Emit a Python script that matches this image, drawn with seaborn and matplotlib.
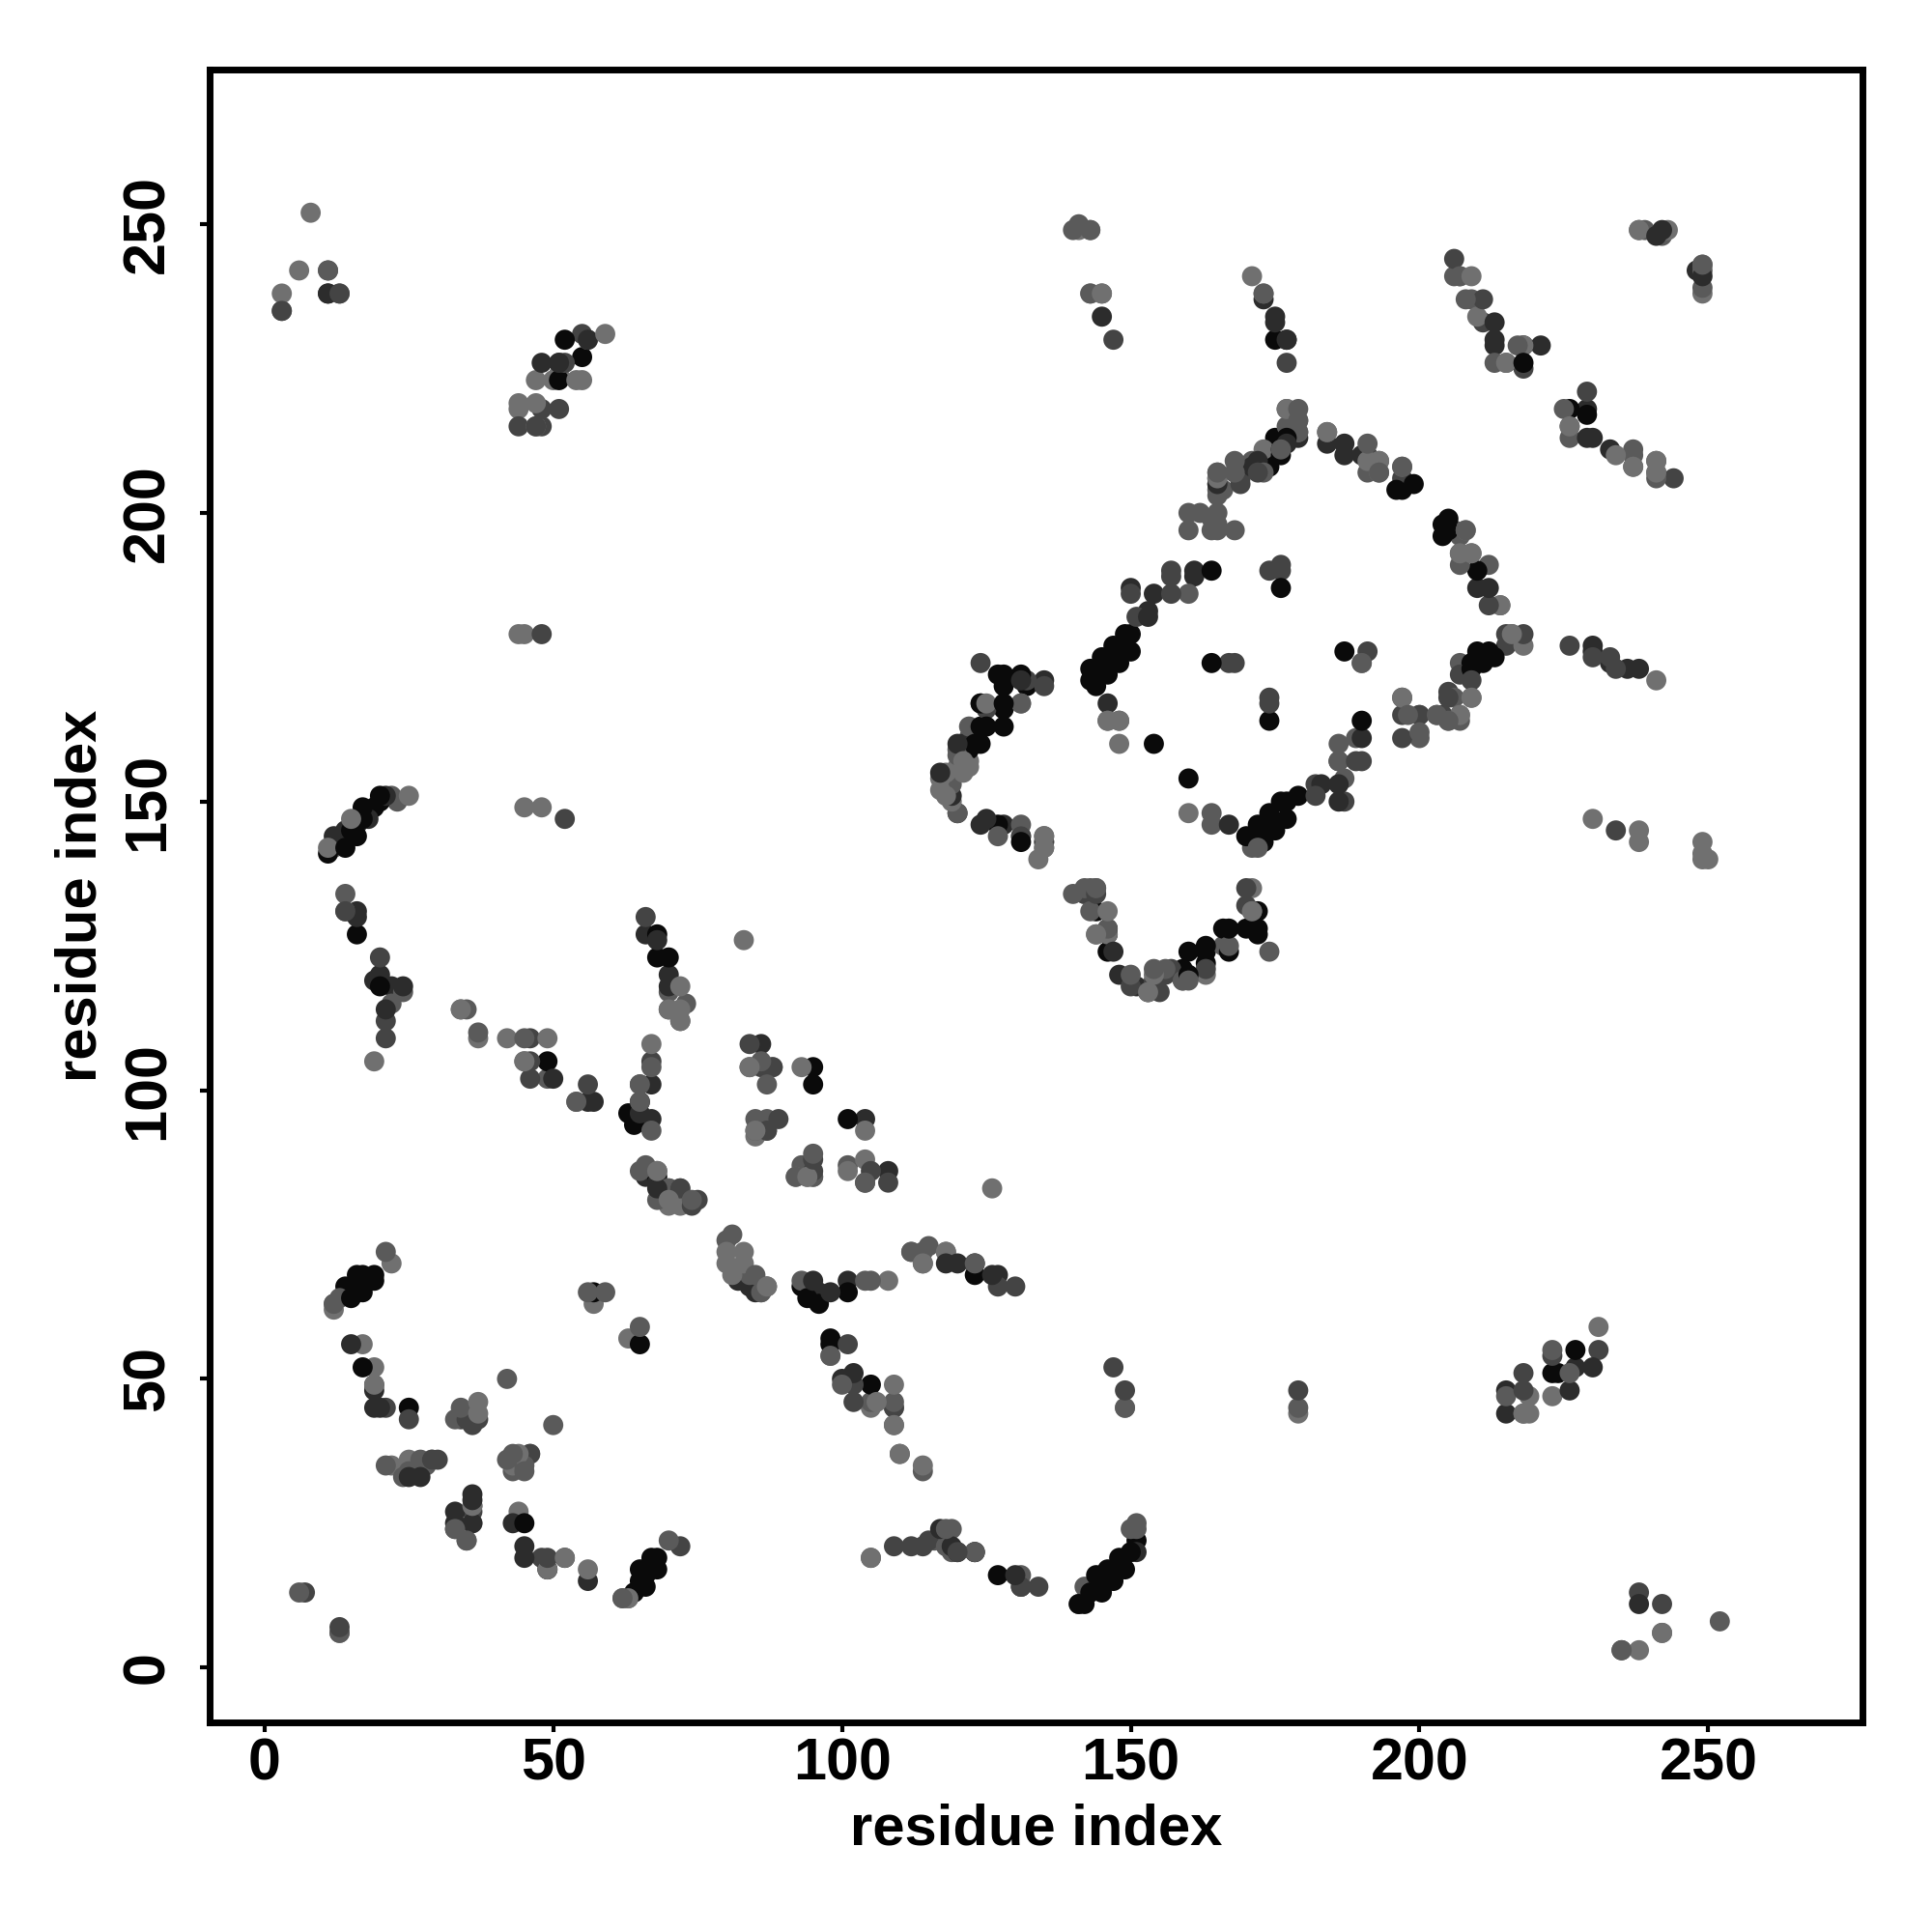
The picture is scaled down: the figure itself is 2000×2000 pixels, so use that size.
import matplotlib
matplotlib.use("Agg")
import matplotlib.pyplot as plt
import seaborn as sns
import pandas as pd

black_pts = [(11,238),(52,230),(55,227),(51,223),(16,127),(20,118),(68,127),(68,123),(70,123),(49,105),(95,104),(95,101),(101,95),
(65,98),(63,96),(64,94),(68,85),(17,68),(16,68),(19,68),(17,67),(19,67),(16,66),(17,65),(15,64),(14,66),(57,65),(96,63),(94,64),(93,66),
(101,65),(123,68),(123,70),(65,56),(98,57),(98,56),(105,49),(17,52),(25,45),(45,25),(49,17),(65,17),(66,16),(65,15),(67,17),(68,17),(67,19),(68,19),(66,14),(64,13),
(141,11),(142,11),(143,13),(145,13),(146,15),(147,15),(144,16),(146,17),(149,17),(148,19),(150,20),(151,22),(127,16),(227,55),(224,51),(223,51),
(177,230),(175,230),(218,229),(218,226),(226,218),(229,217),(175,211),(176,211),(173,209),(174,210),(174,208),(176,210),(177,213),(175,213),
(196,204),(197,204),(198,205),(199,205),(205,199),(204,198),(204,196),(205,197),(210,190),(213,175),(212,176),(210,176),(209,174),(209,173),(211,174),
(164,190),(176,187),(150,179),(149,179),(149,178),(147,177),(150,176),(148,176),(147,175),(145,175),(148,174),(145,173),(146,172),(143,173),(144,172),(143,171),(144,170),
(164,174),(187,176),(174,164),(190,164),(154,160),(160,154),(179,151),(177,150),(176,150),(177,147),(174,148),(174,146),(175,145),(172,146),(172,144),(173,143),(171,143),(170,144),
(128,172),(127,172),(131,172),(128,170),(132,170),(124,167),(128,167),(128,166),(125,163),(124,163),(128,163),(124,160),(122,159),(123,160),(127,146),(131,143),
(144,131),(146,128),(146,127),(146,124),(159,121),(160,120),(163,125),(163,124),(163,122),(166,128),(167,128),(167,124),(172,131),(172,128),(172,127),(170,128),(160,124),
(11,141),(14,142),(15,145),(16,144),(17,147),(17,149),(19,149),(20,150),(20,151),(12,143)]
dark_pts = [(11,238),(56,230),(48,226),(51,226),(173,237),(175,234),(175,233),(177,230),(213,233),(213,230),(213,229),(221,229),(229,218),(229,213),(230,213),(233,211),
(24,118),(22,118),(21,114),(20,120),(16,131),(16,130),(66,127),(68,126),(70,120),(70,118),(56,98),(57,98),(50,102),(67,101),(67,95),(65,96),(86,108),(104,95),(108,86),
(120,70),(127,68),(126,68),(118,70),(98,65),(96,65),(95,67),(101,67),(33,27),(33,25),(45,21),(45,19),(25,33),(27,33),(56,15),(52,19),(43,25),(36,25),(20,45),(19,48),(15,56),
(183,153),(184,212),(187,212),(187,210),(190,210),(212,187),(210,187),(161,190),(161,189),(154,186),(153,183),(153,182),(150,187),(146,167),(131,171),(135,171),(186,157),(190,161),(186,153),(167,146),(186,150),(124,146),
(145,234),(151,20),(148,120),(153,117),(151,118),(123,20),(130,16),(227,52),(230,52),(226,48),(215,48),(215,44),(238,11)]
mid_pts = [(13,238),(3,235),(11,242),(55,231),(52,226),(51,226),(47,215),(48,218),(51,218),(44,215),(48,215),(48,179),(52,147),(234,145),(177,226),(206,244),(211,237),(211,233),(218,225),
(229,221),(244,206),(226,177),(230,175),(233,175),(234,173),(20,123),(14,131),(21,112),(21,109),(46,109),(46,105),(46,102),(56,101),(65,101),(67,105),(66,130),(84,108),(86,104),(88,104),
(89,95),(87,93),(95,88),(95,86),(105,86),(108,84),(104,84),(127,66),(130,66),(131,14),(134,14),(123,20),(85,66),(84,68),(87,66),(75,81),(74,80),(72,83),(46,37),(30,36),(29,36),(34,43),(35,43),(36,42),(37,43),
(25,43),(19,49),(21,45),(49,19),(48,19),(36,27),(33,24),(13,7),(7,13),(72,21),(120,20),(115,22),(112,21),(109,21),(114,21),(102,49),(102,46),(109,45),(101,56),(147,52),(149,48),(179,48),(218,51),(218,48),(223,54),(231,55),(238,13),(242,11),(235,3),
(147,230),(124,174),(125,166),(135,170),(131,144),(135,143),(132,171),(165,205),(169,205),(169,206),(172,207),(197,206),(191,210),(182,153),(182,151),(190,157),(189,157),(187,150),(174,167),(174,168),(191,176),(168,174),(167,174),(150,186),(157,186),(174,190),(176,191),(176,190),(151,182),(212,184),(215,179),(218,179),(215,177),(207,172),(209,171),(205,169),(205,168),(204,165),(203,165),(197,165),(200,165),(197,161),
(157,190),(157,189),(150,118),(155,117),(154,119),(156,120),(157,121),(163,121),(142,134),(144,134),(170,135),(170,132)]
grey_pts = [(3,235),(11,242),(13,238),(140,249),(141,250),(143,249),(238,249),(239,249),(242,248),(249,243),(249,242),(249,239),(173,238),(177,218),(179,218),(179,216),(179,214),(168,209),(168,207),(165,207),(165,206),(165,203),
(173,207),(171,209),(160,186),(164,148),(164,146),(190,174),(146,164),(148,164),(189,161),(186,160),(186,157),(187,154),(172,142),(171,142),(127,144),(131,146),(135,144),(135,142),(124,167),(131,167),(122,163),
(14,134),(14,131),(24,117),(22,115),(34,114),(35,114),(37,110),(45,109),(49,102),(45,105),(54,98),(67,104),(65,101),(65,98),(67,93),(70,117),(70,114),(72,112),(73,115),(84,104),(86,105),(87,101),(85,95),(87,95),(87,93),(85,93),(95,89),(93,87),(92,85),(94,85),(95,85),(101,87),(104,84),(66,87),(65,86),(68,86),(70,83),(68,81),(74,81),(81,75),(80,74),(85,68),(84,68),(86,65),(93,67),
(105,67),(104,67),(112,72),(114,72),(115,73),(118,72),(114,70),(56,65),(59,65),(65,59),(98,54),(100,49),(109,46),(105,46),(109,42),(110,37),(114,34),(34,45),(34,44),(42,50),(50,42),(33,43),(28,35),(27,36),(25,34),(24,33),(43,37),(42,36),(45,35),(45,34),(43,34),(36,28),(35,22),(33,24),(21,72),(12,63),(13,64),(21,35),
(6,13),(13,6),(62,12),(63,12),(70,22),(105,19),(123,70),(131,16),(131,14),(141,11),(142,14),(149,45),(179,45),(223,55),(226,51),(218,44),(215,47),(242,6),(252,8),(235,3),(150,24),(151,24),(151,25),
(143,135),(142,135),(140,134),(144,135),(143,131),(144,127),(146,128),(154,121),(156,121),(159,119),(160,119),(150,120),(167,125),(166,125),(171,131),(174,124),(18,148),(23,150),(22,151),
(207,193),(209,193),(207,191),(212,191),(214,184),(208,197),(206,197),(207,196),(216,179),(207,174),(206,168),(209,168),(207,165),(207,164),(198,165),(200,162),(200,161),(197,168),(203,165),(205,164),
(191,212),(193,209),(193,207),(191,207),(197,208),(184,214),(177,215),(176,211),(206,241),(207,241),(208,237),(209,237),(213,226),(215,226),(217,229),(226,215),(226,213),(237,211),(237,210),(237,208),(241,209),(241,207),(241,206),(225,218),(145,238),(143,238)]
light_pts = [(8,252),(6,242),(3,238),(59,231),(56,230),(47,223),(50,223),(51,224),(54,223),(55,223),(44,219),(44,218),(47,219),(47,215),(44,179),(45,179),(45,149),(48,149),(19,105),(17,56),(19,52),(19,49),(22,70),
(25,151),(12,142),(11,142),(14,143),(15,147),(34,114),(37,109),(42,109),(49,109),(45,105),(54,98),(67,108),(72,118),(72,114),(70,114),(72,112),(83,126),(84,104),(88,104),(85,92),(85,93),(93,104),(104,93),(104,88),(101,86),(95,85),(92,85),(94,85),(72,83),(70,83),(70,81),(70,80),(72,80),(68,86),(83,72),(80,72),(80,70),(83,70),(81,68),(83,67),(87,66),(86,65),
(112,72),(118,72),(114,70),(108,67),(57,63),(63,57),(98,54),(109,49),(109,45),(109,42),(105,45),(106,46),(110,37),(114,35),(37,46),(36,44),(37,44),(25,36),(29,36),(22,35),(44,37),(46,37),(43,35),(36,28),(36,25),(44,27),(35,22),(52,19),(56,17),(49,17),
(12,62),(12,63),(63,12),(62,12),(13,6),(105,19),(126,83),(131,14),(149,45),(179,44),(231,59),(223,47),(219,47),(219,44),(218,44),(238,3),(242,6),
(141,249),(143,249),(143,238),(145,238),(171,241),(173,238),(238,249),(243,249),(249,243),(249,238),(177,218),(179,216),(179,214),(173,211),(168,207),(165,207),(165,206),(207,241),(209,241),(210,234),(215,226),(218,229),(226,215),(234,210),(237,208),(241,209),(241,207),
(160,148),(148,160),(146,164),(148,164),(190,174),(200,165),(197,168),(209,168),(207,165),(205,164),(218,177),(216,179),(241,171),(238,145),(238,143),(230,147),(249,143),(249,140),(250,140),(249,141),(191,209),(193,209),(197,208),(184,214),(193,207),(208,197),(209,193),(214,184),(207,193),
(117,154),(117,152),(118,155),(118,151),(119,150),(120,156),(121,155),(122,156),(122,157),(121,157),(135,144),(135,142),(134,140),(135,143),(131,144),(125,167),(131,167),(142,134),(144,135),(146,131),(146,127),(144,127),(154,120),(159,119),(171,135),(171,131),(163,120),(153,117)]
arc_extra_grey = [(118,24),(119,24),(118,21),(119,20),(123,20),(116,22),(120,159),(120,148),(120,158),(122,161),(119,153),
(160,200),(162,200),(160,197),(165,200),(165,198),(164,197),(165,197),(168,197),(164,199),(166,204),(165,204)]
arc_extra_dark = [(117,24),(119,21),(120,20),(12,144),(13,143),(14,145),(16,146),(18,147),(21,151),(121,160),(122,161),(120,160),
(242,249),(241,248),(249,241),(248,242),(230,177),(230,176),(233,174),(238,173),(236,173),(120,148),(119,151),(117,155),(120,155),(128,146),(125,147),
(68,83),(70,82),(66,85),(68,84),(82,67),(84,66),(85,65),(36,30),(36,29),(19,45),(19,119),(100,50),(102,51),(36,43),(147,124),(165,205),(177,212),(179,213),(171,208),(172,209)]

grey_levels = {"black": "#0a0a0a", "dark": "#2c2c2c", "mid": "#444444", "grey": "#5a5a5a", "light": "#707070"}
groups = {"black": black_pts, "dark": dark_pts + arc_extra_dark, "mid": mid_pts, "grey": grey_pts + arc_extra_grey, "light": light_pts}

rows = [(x, y, name) for name, pts in groups.items() for x, y in pts]
rows.sort(key=lambda r: (r[0] * 37 + r[1] * 17 + len(r[2]) * 5) % 11)
df = pd.DataFrame(rows, columns=["res_x", "res_y", "shade"])

x_ticks = [0, 50, 100, 150, 200, 250]
axis_label = "residue index"

sns.set_theme(style="white")
plt.rcParams["font.family"] = ["Liberation Sans", "DejaVu Sans"]
fig = plt.figure(figsize=(20, 20), dpi=100)
ax = fig.add_axes([217 / 2000, 1 - 1783 / 2000, (1928 - 217) / 2000, (1783 - 72) / 2000])
sns.scatterplot(data=df, x="res_x", y="res_y", hue="shade", palette=grey_levels, s=225,
                linewidth=0, legend=False, ax=ax)
ax.set_xlim(-9.5, 276.7)
ax.set_ylim(-9.5, 276.8)
ax.set_xticks(x_ticks)
ax.set_yticks(x_ticks)
ax.tick_params(axis="x", length=7, width=3, color="black", labelcolor="black", labelsize=44, pad=4, bottom=True)
ax.tick_params(axis="y", length=7, width=3, color="black", labelcolor="black", labelsize=44, pad=18, left=True)
for lab in ax.get_xticklabels():
    lab.set_fontweight("bold")
for lab in ax.get_yticklabels():
    lab.set_fontweight("bold")
    lab.set_rotation(90)
    lab.set_va("center")
for sp in ax.spines.values():
    sp.set_visible(True)
    sp.set_linewidth(5)
    sp.set_color("black")
ax.set_xlabel(axis_label, fontsize=43, fontweight="bold", color="black", labelpad=8)
ax.set_ylabel(axis_label, fontsize=43, fontweight="bold", color="black", labelpad=10)
fig.savefig("out.png", dpi=100, facecolor="white")
